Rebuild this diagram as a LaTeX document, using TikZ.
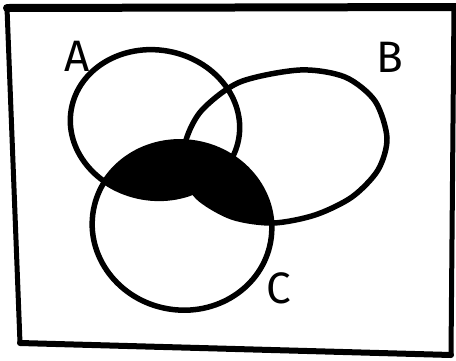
\documentclass[tikz,border=0pt]{standalone}
\usepackage{fontspec}
\setmainfont{Fira Sans}
\begin{document}
\begin{tikzpicture}[x=1pt,y=-1pt,
  ring/.style={draw=black,line width=5.5pt},
  framestroke/.style={draw=black,line cap=round,line join=round},
  setlabel/.style={font=\fontsize{44}{44}\selectfont, inner sep=0pt, text=black}]
\useasboundingbox (0,0) rectangle (456,360);
% frame
\coordinate (tl) at (7,8);
\coordinate (tr) at (458,7);
\coordinate (trr) at (454,7);
\coordinate (br) at (451,355);
\coordinate (bl) at (20,343);
\draw[framestroke,line width=8pt] (tl) -- (tr);
\draw[framestroke,line width=5pt] (tl) -- (bl);
\draw[framestroke,line width=6pt] (bl) -- (br);
\draw[framestroke,line width=5pt] (trr) -- (br);
% shading C and (A or B)
\begin{scope}
  \clip[rotate around={-10:(182,226)}] (182,226) ellipse [x radius=90, y radius=84];
  \fill[black,rotate around={-10:(155,124)}] (155,124) ellipse [x radius=85, y radius=74];
  \fill[black] plot[smooth cycle] coordinates {(300,70) (345,77) (375,101) (387,138) (378,170) (352,197) (315,215) (273,223) (232,217) (198,197) (184,170) (186,140) (202,110) (240,82)};
\end{scope}
% rings
\draw[ring,rotate around={-10:(155,124)}] (155,124) ellipse [x radius=85, y radius=74];
\draw[ring] plot[smooth cycle] coordinates {(300,70) (345,77) (375,101) (387,138) (378,170) (352,197) (315,215) (273,223) (232,217) (198,197) (184,170) (186,140) (202,110) (240,82)};
\draw[ring,rotate around={-10:(182,226)}] (182,226) ellipse [x radius=90, y radius=84];
% labels
\node[setlabel] (la) at (77,56) {A};
\node[setlabel] (lb) at (390,57) {B};
\node[setlabel] (lc) at (279,288) {C};
\end{tikzpicture}
\end{document}
